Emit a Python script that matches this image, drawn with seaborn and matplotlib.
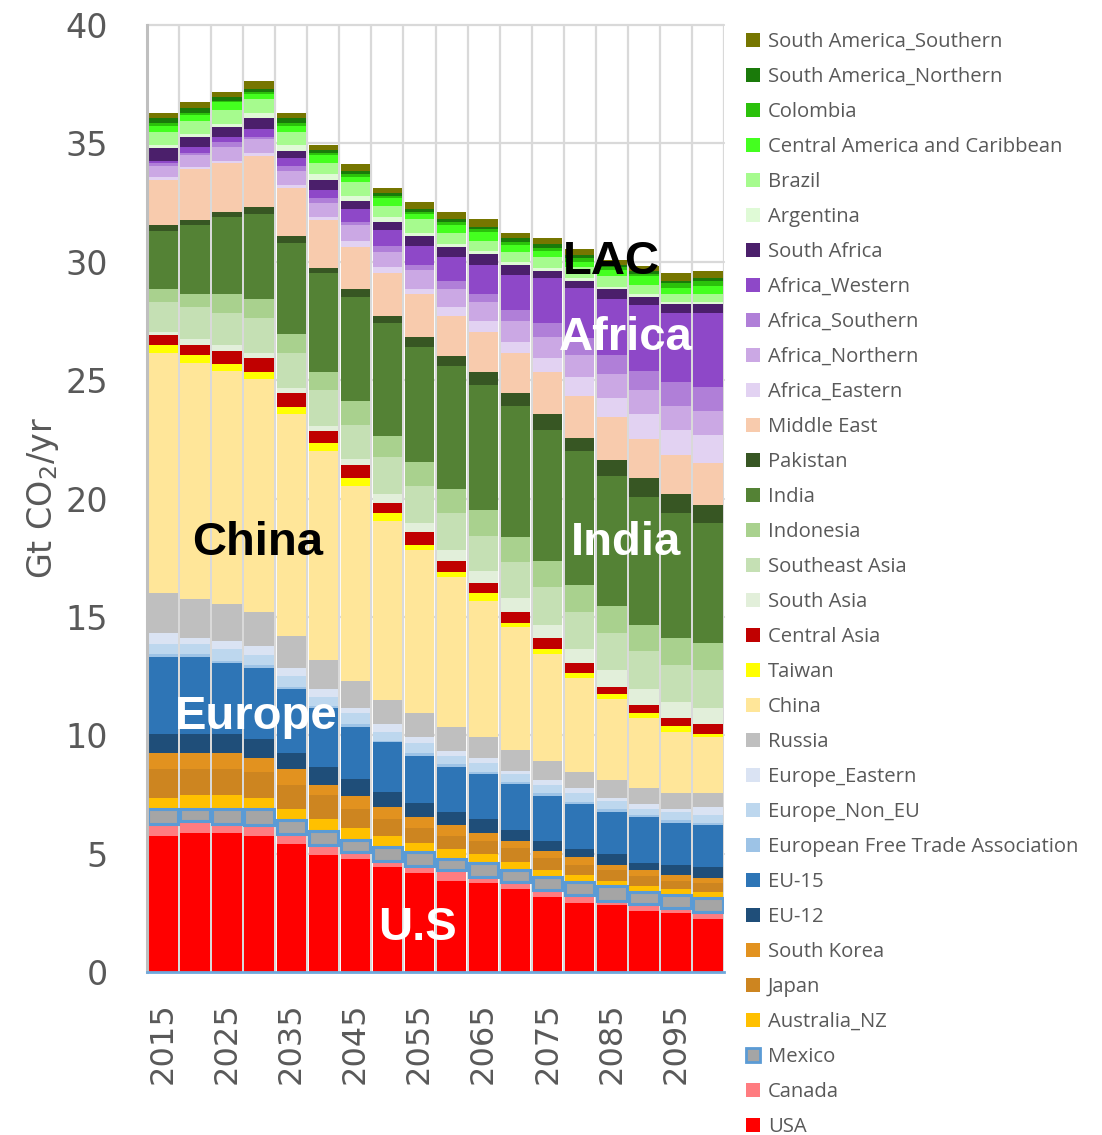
import numpy as np
import pandas as pd
import matplotlib
matplotlib.use("Agg")
import matplotlib.pyplot as plt
import seaborn as sns
from matplotlib.patches import Patch

years = [str(y) for y in range(2015, 2101, 5)]

usa       = [5.74, 5.89, 5.89, 5.74, 5.41, 4.94, 4.76, 4.42, 4.19, 3.84, 3.75, 3.51, 3.18, 2.93, 2.83, 2.59, 2.51, 2.24]
canada    = [0.51, 0.50, 0.36, 0.46, 0.42, 0.42, 0.30, 0.28, 0.29, 0.46, 0.28, 0.28, 0.28, 0.32, 0.18, 0.28, 0.18, 0.31]
mexico    = [0.62, 0.51, 0.62, 0.67, 0.59, 0.61, 0.52, 0.59, 0.60, 0.46, 0.59, 0.52, 0.57, 0.56, 0.62, 0.52, 0.56, 0.56]
aus_nz    = [0.47, 0.56, 0.59, 0.47, 0.45, 0.48, 0.49, 0.47, 0.36, 0.42, 0.36, 0.35, 0.28, 0.29, 0.21, 0.24, 0.24, 0.28]
japan     = [1.23, 1.11, 1.11, 1.12, 1.03, 1.01, 0.81, 0.69, 0.63, 0.56, 0.55, 0.56, 0.49, 0.42, 0.47, 0.42, 0.35, 0.36]
s_korea   = [0.68, 0.68, 0.68, 0.56, 0.67, 0.44, 0.57, 0.53, 0.46, 0.47, 0.35, 0.31, 0.31, 0.35, 0.21, 0.26, 0.26, 0.21]
eu12      = [0.79, 0.79, 0.79, 0.81, 0.68, 0.77, 0.69, 0.61, 0.59, 0.56, 0.57, 0.47, 0.44, 0.33, 0.45, 0.31, 0.42, 0.46]
eu15      = [3.28, 3.28, 3.03, 3.02, 2.70, 2.49, 2.22, 2.11, 2.02, 1.90, 1.90, 1.93, 1.90, 1.90, 1.80, 1.91, 1.79, 1.79]
efta      = [0.12, 0.10, 0.08, 0.12, 0.10, 0.08, 0.12, 0.07, 0.10, 0.10, 0.08, 0.08, 0.12, 0.09, 0.10, 0.10, 0.11, 0.07]
eur_noneu = [0.41, 0.43, 0.49, 0.42, 0.45, 0.39, 0.45, 0.38, 0.45, 0.35, 0.38, 0.35, 0.33, 0.36, 0.35, 0.25, 0.32, 0.35]
eur_east  = [0.45, 0.24, 0.34, 0.38, 0.35, 0.32, 0.23, 0.33, 0.25, 0.23, 0.21, 0.13, 0.21, 0.21, 0.12, 0.22, 0.13, 0.35]
russia    = [1.70, 1.68, 1.56, 1.45, 1.34, 1.23, 1.13, 1.01, 0.99, 1.01, 0.92, 0.89, 0.80, 0.67, 0.77, 0.66, 0.70, 0.59]
china     = [10.16, 9.94, 9.85, 9.81, 9.38, 8.82, 8.25, 7.57, 6.89, 6.34, 5.74, 5.21, 4.52, 3.97, 3.42, 2.95, 2.58, 2.37]
taiwan    = [0.32, 0.34, 0.30, 0.33, 0.31, 0.33, 0.31, 0.34, 0.22, 0.21, 0.34, 0.16, 0.21, 0.22, 0.20, 0.22, 0.24, 0.11]
c_asia    = [0.42, 0.43, 0.55, 0.56, 0.59, 0.52, 0.56, 0.42, 0.55, 0.45, 0.43, 0.47, 0.45, 0.45, 0.32, 0.35, 0.32, 0.43]
s_asia    = [0.15, 0.24, 0.24, 0.24, 0.21, 0.21, 0.25, 0.37, 0.36, 0.46, 0.49, 0.59, 0.57, 0.57, 0.71, 0.67, 0.68, 0.68]
se_asia   = [1.26, 1.35, 1.37, 1.48, 1.48, 1.52, 1.44, 1.58, 1.59, 1.58, 1.46, 1.49, 1.61, 1.58, 1.57, 1.61, 1.58, 1.60]
indonesia = [0.54, 0.57, 0.77, 0.79, 0.77, 0.78, 1.03, 0.88, 1.01, 1.00, 1.11, 1.09, 1.09, 1.13, 1.13, 1.10, 1.12, 1.12]
india     = [2.46, 2.91, 3.28, 3.57, 3.85, 4.18, 4.40, 4.75, 4.86, 5.20, 5.28, 5.52, 5.53, 5.65, 5.50, 5.42, 5.31, 5.07]
pakistan  = [0.24, 0.21, 0.22, 0.33, 0.31, 0.21, 0.31, 0.31, 0.42, 0.42, 0.57, 0.56, 0.67, 0.54, 0.67, 0.77, 0.78, 0.78]
mid_east  = [1.90, 2.16, 2.04, 2.14, 2.04, 2.01, 1.80, 1.83, 1.79, 1.70, 1.69, 1.69, 1.80, 1.80, 1.80, 1.66, 1.66, 1.78]
af_east   = [0.11, 0.08, 0.10, 0.14, 0.11, 0.14, 0.24, 0.22, 0.22, 0.35, 0.45, 0.46, 0.56, 0.81, 0.80, 1.05, 1.05, 1.17]
af_north  = [0.47, 0.49, 0.57, 0.57, 0.59, 0.57, 0.67, 0.67, 0.81, 0.78, 0.81, 0.89, 0.89, 0.91, 1.03, 1.02, 1.02, 1.02]
af_south  = [0.13, 0.12, 0.23, 0.10, 0.21, 0.23, 0.14, 0.23, 0.21, 0.34, 0.33, 0.45, 0.59, 0.71, 0.80, 0.82, 1.02, 1.02]
af_west   = [0.11, 0.22, 0.21, 0.34, 0.33, 0.33, 0.54, 0.68, 0.80, 1.02, 1.22, 1.48, 1.90, 2.11, 2.37, 2.77, 2.92, 3.13]
s_africa  = [0.55, 0.43, 0.44, 0.44, 0.32, 0.42, 0.34, 0.32, 0.44, 0.43, 0.45, 0.42, 0.32, 0.32, 0.41, 0.35, 0.37, 0.35]
argentina = [0.11, 0.12, 0.11, 0.24, 0.24, 0.24, 0.21, 0.24, 0.10, 0.11, 0.14, 0.12, 0.10, 0.13, 0.10, 0.12, 0.07, 0.10]
brazil    = [0.57, 0.58, 0.59, 0.56, 0.56, 0.47, 0.60, 0.46, 0.59, 0.45, 0.44, 0.45, 0.47, 0.43, 0.46, 0.38, 0.35, 0.34]
cam_carib = [0.23, 0.24, 0.32, 0.22, 0.24, 0.35, 0.21, 0.32, 0.23, 0.35, 0.38, 0.28, 0.28, 0.24, 0.25, 0.38, 0.24, 0.34]
colombia  = [0.14, 0.10, 0.07, 0.11, 0.14, 0.10, 0.12, 0.10, 0.10, 0.14, 0.11, 0.11, 0.12, 0.14, 0.12, 0.10, 0.21, 0.21]
sa_north  = [0.19, 0.21, 0.14, 0.10, 0.19, 0.11, 0.11, 0.11, 0.11, 0.10, 0.10, 0.17, 0.16, 0.15, 0.10, 0.10, 0.10, 0.11]
sa_south  = [0.22, 0.22, 0.24, 0.34, 0.22, 0.21, 0.31, 0.24, 0.31, 0.33, 0.31, 0.24, 0.24, 0.25, 0.20, 0.20, 0.32, 0.32]

series_names = ["USA", "Canada", "Mexico", "Australia_NZ", "Japan", "South Korea", "EU-12", "EU-15",
                "European Free Trade Association", "Europe_Non_EU", "Europe_Eastern", "Russia", "China",
                "Taiwan", "Central Asia", "South Asia", "Southeast Asia", "Indonesia", "India", "Pakistan",
                "Middle East", "Africa_Eastern", "Africa_Northern", "Africa_Southern", "Africa_Western",
                "South Africa", "Argentina", "Brazil", "Central America and Caribbean", "Colombia",
                "South America_Northern", "South America_Southern"]
series_values = [usa, canada, mexico, aus_nz, japan, s_korea, eu12, eu15, efta, eur_noneu, eur_east,
                 russia, china, taiwan, c_asia, s_asia, se_asia, indonesia, india, pakistan, mid_east,
                 af_east, af_north, af_south, af_west, s_africa, argentina, brazil, cam_carib, colombia,
                 sa_north, sa_south]
colors = ["#FF0000", "#FF7C80", "#A5A5A5", "#FFC000", "#CD8520", "#E2921F", "#1F4E79", "#2E75B6",
          "#9DC3E6", "#BDD7EE", "#DAE3F3", "#BFBFBF", "#FFE699", "#FFFF00", "#C00000", "#E2EFDA",
          "#C5E0B4", "#A9D18E", "#548235", "#375623", "#F8CBAD", "#E2D2F2", "#CBA8E4", "#B07FD8",
          "#8E48C8", "#4B1F6B", "#DFFAD6", "#A6FB8E", "#44FF1F", "#2BC10B", "#1A7A0A", "#767600"]

sns.set_theme(style="white")
plt.rcParams['font.family'] = ['DejaVu Sans']

fig = plt.figure(figsize=(11.02, 11.35), dpi=100)
ax = fig.add_axes([147 / 1102, 1 - 972 / 1135, 577 / 1102, 947 / 1135])

bottom = np.zeros(len(years))
for name, vals, col in zip(series_names, series_values, colors):
    df = pd.DataFrame({"year": years, "value": vals})
    if name == "Mexico":
        kw = dict(edgecolor="#5B9BD5", linewidth=2.2, zorder=4)
    else:
        kw = dict(edgecolor="none", linewidth=0, zorder=3)
    sns.barplot(data=df, x="year", y="value", color=col, saturation=1, width=0.92,
                errorbar=None, ax=ax, bottom=bottom.copy(), **kw)
    bottom = bottom + np.array(vals)

ax.set_xlim(-0.5, len(years) - 0.5)
ax.set_ylim(0, 40)
ax.set_yticks(range(0, 41, 5))
ax.set_xticks(range(0, len(years), 2))
ax.set_xticklabels(years[::2], rotation=90)
ax.tick_params(axis="y", labelsize=24, colors="#595959", length=0, pad=28)
ax.tick_params(axis="x", labelsize=23, colors="#595959", length=0, pad=22)
ax.set_xlabel("")
ax.set_ylabel("Gt CO$_2$/yr", fontsize=24, color="#595959", labelpad=3)

ax.grid(False)
for yv in range(5, 41, 5):
    ax.axhline(yv, color="#D9D9D9", lw=1.6, zorder=1, clip_on=False)
for xv in np.arange(-0.5, len(years), 1.0):
    ax.axvline(xv, color="#D9D9D9", lw=1.6, zorder=1)

for s in ["top", "right"]:
    ax.spines[s].set_visible(False)
ax.spines["left"].set_color("#BFBFBF")
ax.spines["left"].set_linewidth(2.2)
ax.spines["bottom"].set_color("#6FA8DC")
ax.spines["bottom"].set_linewidth(2)
ax.spines["left"].set_zorder(5)
ax.spines["bottom"].set_zorder(5)

lab_kw = dict(fontsize=34, fontweight="bold", family="Liberation Sans", ha="center", va="center", zorder=6)
ax.text(2.94, 18.1, "China", color="black", **lab_kw)
ax.text(2.9, 10.77, "Europe", color="white", **lab_kw)
ax.text(7.94, 1.86, "U.S", color="white", **lab_kw)
ax.text(14.44, 18.1, "India", color="white", **lab_kw)
ax.text(14.44, 26.8, "Africa", color="white", **lab_kw)
ax.text(14.0, 30.0, "LAC", color="black", **lab_kw)

handles = []
for name, col in zip(series_names, colors):
    if name == "Mexico":
        handles.append(Patch(facecolor=col, edgecolor="#5B9BD5", linewidth=2))
    else:
        handles.append(Patch(facecolor=col, edgecolor="none"))
leg = fig.legend(handles[::-1], series_names[::-1], loc="upper left",
                 bbox_to_anchor=(746 / 1102, 1 - 32 / 1135), frameon=False,
                 prop={"family": "Open Sans", "size": 14.6},
                 handlelength=0.67, handleheight=0.67, handletextpad=0.42,
                 labelspacing=0.74, borderaxespad=0, borderpad=0)
for t in leg.get_texts():
    t.set_color("#595959")

fig.savefig("out.png", dpi=100)
